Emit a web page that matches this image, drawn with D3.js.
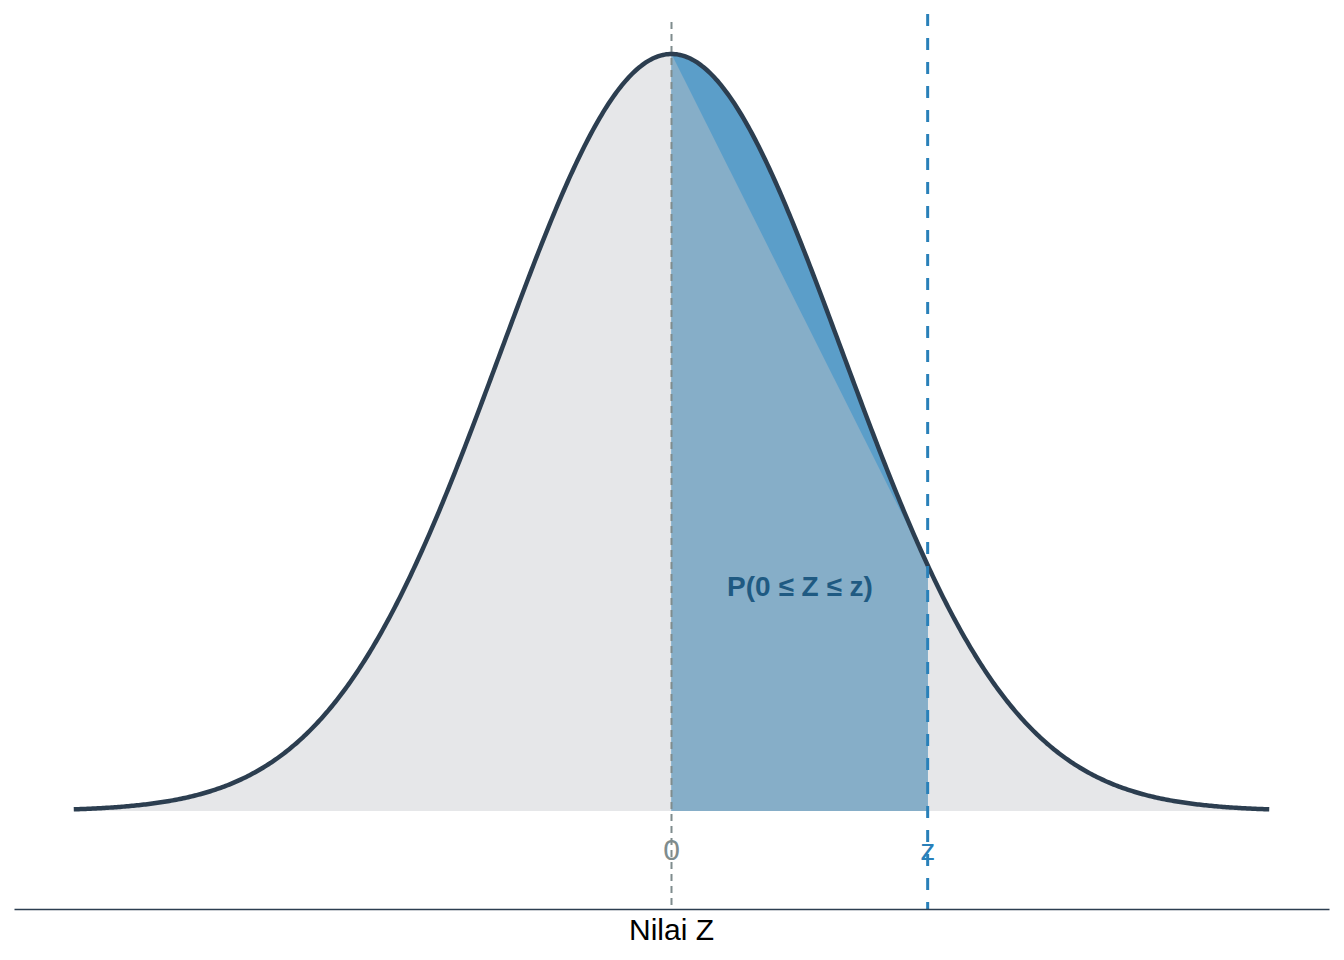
<!DOCTYPE html>
<html>
<head>
<meta charset="utf-8">
<script src="https://cdn.jsdelivr.net/npm/d3@7"></script>
<style>
  html, body { margin: 0; padding: 0; background: #fff; }
  svg { display: block; }
</style>
</head>
<body>
<svg id="chart" width="1344" height="960"></svg>
<script>
// ---- data ----
const zValue = 1.5;                 // position of the "z" marker
const xDomain = [-3.5, 3.5];        // range of the curve
const tickValues = [0, zValue];
const tickLabels = ["0", "z"];
const axisTitle = "Nilai Z";
const areaLabel = "P(0 \u2264 Z \u2264 z)";

const dnorm = x => Math.exp(-x * x / 2) / Math.sqrt(2 * Math.PI);
const curveXs = d3.range(0, 701).map(i => xDomain[0] + i * (xDomain[1] - xDomain[0]) / 700);
const curve = curveXs.map(x => ({ x, y: dnorm(x) }));
const shaded = curve.filter(d => d.x >= 0 && d.x <= zValue + 1e-9);
const chordPoly = [{ x: 0, y: dnorm(0) }, { x: zValue, y: dnorm(zValue) }];

// ---- scales ----
const svg = d3.select("#chart");
const x = d3.scaleLinear().domain([-3.85, 3.85]).range([14, 1329]);
const y = d3.scaleLinear().domain([0, dnorm(0)]).range([811, 54]);
const panelBottom = 909, panelTop = 14;

const area = d3.area().x(d => x(d.x)).y0(y(0)).y1(d => y(d.y));
const line = d3.line().x(d => x(d.x)).y(d => y(d.y));

// full gray area
svg.append("path").datum(curve).attr("d", area).attr("fill", "#E6E7E9");
// dark blue area under the curve between 0 and z
svg.append("path").datum(shaded).attr("d", area).attr("fill", "#5B9EC9");
// lighter polygon (chord from peak to f(z))
svg.append("path").datum(chordPoly).attr("d", area).attr("fill", "#86AEC8");

// dashed line at 0
svg.append("line")
  .attr("x1", x(0)).attr("x2", x(0)).attr("y1", 22).attr("y2", panelBottom)
  .attr("stroke", "#7F8C8D").attr("stroke-width", 2).attr("stroke-dasharray", "7,5");

// curve
svg.append("path").datum(curve).attr("d", line)
  .attr("fill", "none").attr("stroke", "#2C3E50").attr("stroke-width", 4.5)
  .attr("stroke-linejoin", "round");

// dashed line at z
svg.append("line")
  .attr("x1", x(zValue)).attr("x2", x(zValue)).attr("y1", panelTop).attr("y2", panelBottom)
  .attr("stroke", "#2980B9").attr("stroke-width", 3).attr("stroke-dasharray", "12,12");

// area label
svg.append("text")
  .attr("x", 800).attr("y", 596)
  .attr("text-anchor", "middle")
  .attr("font-family", "Liberation Sans, Arial, sans-serif")
  .attr("font-weight", "bold").attr("font-size", 28)
  .attr("fill", "#1F5A82")
  .text(areaLabel);

// tick labels
const tickColors = ["#7F8C8D", "#2980B9"];
svg.selectAll("text.tick").data(tickValues).enter().append("text")
  .attr("class", "tick")
  .attr("x", d => x(d)).attr("y", 860)
  .attr("text-anchor", "middle")
  .attr("font-family", "Liberation Sans, Arial, sans-serif")
  .attr("font-size", 30)
  .attr("fill", (d, i) => tickColors[i])
  .text((d, i) => tickLabels[i]);

// bottom axis line
const axis = d3.axisBottom(x).tickValues([]).tickSize(0).tickSizeOuter(0);
const gAxis = svg.append("g").attr("transform", `translate(0,${panelBottom})`).call(axis);
gAxis.select(".domain").attr("stroke", "#2C3E50").attr("stroke-width", 1.5);

// axis title
svg.append("text")
  .attr("x", x(0)).attr("y", 940)
  .attr("text-anchor", "middle")
  .attr("font-family", "Liberation Sans, Arial, sans-serif")
  .attr("font-size", 30)
  .attr("fill", "#000")
  .text(axisTitle);
</script>
</body>
</html>
